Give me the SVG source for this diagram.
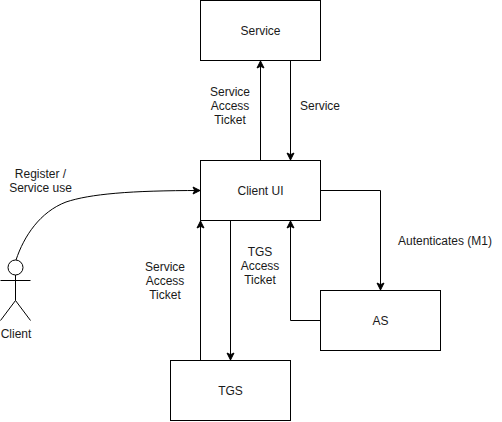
<svg xmlns="http://www.w3.org/2000/svg" width="502" height="422" viewBox="0 0 502 422">
<style>
.box{fill:#fff;stroke:#000;stroke-width:1}
.ln{fill:none;stroke:#000;stroke-width:1}
.ar{fill:none;stroke:#000;stroke-width:1;marker-end:url(#a)}
text{font-family:"Liberation Sans",Arial,sans-serif;font-size:12px;fill:#1a1a1a;text-anchor:middle}
</style>
<defs><marker id="a" markerUnits="userSpaceOnUse" markerWidth="12" markerHeight="12" refX="9" refY="5" orient="auto"><path d="M1.500 1.500L8.500 5L1.500 8.500L3.200 5Z" fill="#000" stroke="#000"/></marker></defs>
<rect width="502" height="422" fill="#fff"/>
<g id="connectors">
<path class="ar" d="M260.500 160.500V60.500"/>
<path class="ar" d="M290.500 60.500V160.500"/>
<path class="ar" d="M200.500 360.500V220.500"/>
<path class="ar" d="M230.500 220.500V360.500"/>
<path class="ar" d="M320.500 320.500H290.500V220.500"/>
<path class="ar" d="M320.500 190.500H380.500V290.500"/>
<path class="ar" d="M16 260C24 236 40 212 66 202C90 194 130 190.500 200.500 190.500"/>
</g>
<g id="service"><rect class="box" x="200.500" y="0.500" width="120" height="60"/><text x="260.500" y="35">Service</text></g>
<g id="client-ui"><rect class="box" x="200.500" y="160.500" width="120" height="60"/><text x="260.500" y="195">Client UI</text></g>
<g id="as"><rect class="box" x="320.500" y="290.500" width="120" height="60"/><text x="380.500" y="325">AS</text></g>
<g id="tgs"><rect class="box" x="170.500" y="360.500" width="120" height="60"/><text x="230.500" y="395">TGS</text></g>
<g id="client">
<circle class="box" cx="15.500" cy="267.500" r="7.500"/>
<path class="ln" d="M15.500 275V300.500M0.500 280.500H30.500M15.500 300.500L0.500 320.500M15.500 300.500L30.500 320.500"/>
<text x="16" y="338">Client</text>
</g>
<g id="labels">
<text x="40.500" y="178">Register /</text><text x="40.500" y="192">Service use</text>
<text x="230" y="96">Service</text><text x="230" y="110">Access</text><text x="230" y="124">Ticket</text>
<text x="320" y="110">Service</text>
<text x="165" y="271">Service</text><text x="165" y="285">Access</text><text x="165" y="299">Ticket</text>
<text x="260" y="256">TGS</text><text x="260" y="270">Access</text><text x="260" y="284">Ticket</text>
<text x="445" y="245">Autenticates (M1)</text>
</g>
</svg>
